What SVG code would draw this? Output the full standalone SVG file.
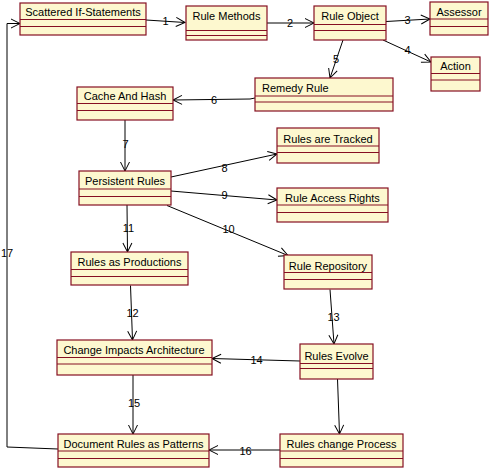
<svg xmlns="http://www.w3.org/2000/svg" width="490" height="469" viewBox="0 0 490 469">
<defs>
<style>
.box{fill:#fdf8cf;stroke:#860f22;stroke-width:1.2}
.div{stroke:#860f22;stroke-width:1}
.t{font-family:"Liberation Sans",Arial,sans-serif;font-size:11px;fill:#000}
.c{text-anchor:middle}
.ln{fill:none;stroke:#000;stroke-width:1}
.lb{font-family:"Liberation Sans",Arial,sans-serif;font-size:11px;fill:#000;text-anchor:middle}
</style>
<marker id="arr" markerUnits="userSpaceOnUse" markerWidth="14" markerHeight="12" viewBox="-11 -6 13 12" refX="0" refY="0" orient="auto">
<path d="M-9,-4.5 L0,0 L-9,4.5" fill="none" stroke="#000" stroke-width="1"/>
</marker>
</defs>
<rect width="490" height="469" fill="#fff"/>
<g id="connectors">
<line class="ln" x1="146" y1="20" x2="185" y2="22.5" marker-end="url(#arr)"/>
<line class="ln" x1="267" y1="23" x2="314" y2="23" marker-end="url(#arr)"/>
<line class="ln" x1="386" y1="21.5" x2="430" y2="19" marker-end="url(#arr)"/>
<line class="ln" x1="383" y1="40" x2="431" y2="62" marker-end="url(#arr)"/>
<line class="ln" x1="343" y1="40" x2="330" y2="78" marker-end="url(#arr)"/>
<polyline class="ln" points="255,98 250,99 173,100" marker-end="url(#arr)"/>
<line class="ln" x1="125" y1="120" x2="125" y2="171" marker-end="url(#arr)"/>
<line class="ln" x1="171" y1="177" x2="277" y2="154" marker-end="url(#arr)"/>
<line class="ln" x1="171" y1="191" x2="277" y2="200" marker-end="url(#arr)"/>
<line class="ln" x1="167" y1="205.5" x2="288" y2="255.5" marker-end="url(#arr)"/>
<line class="ln" x1="127" y1="205" x2="127.5" y2="252" marker-end="url(#arr)"/>
<line class="ln" x1="130.5" y1="285.5" x2="132.5" y2="340" marker-end="url(#arr)"/>
<line class="ln" x1="330" y1="289.5" x2="334" y2="344" marker-end="url(#arr)"/>
<line class="ln" x1="300" y1="361" x2="212" y2="358.5" marker-end="url(#arr)"/>
<line class="ln" x1="133" y1="375" x2="133" y2="434" marker-end="url(#arr)"/>
<line class="ln" x1="337.5" y1="379" x2="339.5" y2="434" marker-end="url(#arr)"/>
<line class="ln" x1="280" y1="450" x2="209" y2="450" marker-end="url(#arr)"/>
<polyline class="ln" points="58,449 7,447 7,23.5 20,23.5" marker-end="url(#arr)"/>
<text class="lb" x="165.5" y="25">1</text>
<text class="lb" x="290" y="27">2</text>
<text class="lb" x="407.5" y="24">3</text>
<text class="lb" x="407.5" y="54">4</text>
<text class="lb" x="336" y="63">5</text>
<text class="lb" x="214" y="104">6</text>
<text class="lb" x="125.5" y="148">7</text>
<text class="lb" x="224.5" y="171.5">8</text>
<text class="lb" x="224.5" y="199">9</text>
<text class="lb" x="228.5" y="233">10</text>
<text class="lb" x="128.5" y="231.5">11</text>
<text class="lb" x="132.5" y="316.5">12</text>
<text class="lb" x="333.5" y="321">13</text>
<text class="lb" x="256.5" y="364">14</text>
<text class="lb" x="134" y="407">15</text>
<text class="lb" x="245.5" y="454.5">16</text>
<text class="lb" x="7" y="257">17</text>
</g>
<g id="scattered">
<rect class="box" x="20" y="3" width="126" height="32"/>
<line class="div" x1="20" y1="19.5" x2="146" y2="19.5"/>
<line class="div" x1="20" y1="26.5" x2="146" y2="26.5"/>
<text class="t c" x="83" y="16">Scattered If-Statements</text>
</g>
<g id="ruleMethods">
<rect class="box" x="186" y="6" width="81" height="34"/>
<line class="div" x1="186" y1="30.5" x2="267" y2="30.5"/>
<line class="div" x1="186" y1="35.5" x2="267" y2="35.5"/>
<text class="t c" x="226.5" y="20">Rule Methods</text>
</g>
<g id="ruleObject">
<rect class="box" x="314" y="6" width="72" height="34"/>
<line class="div" x1="314" y1="24.5" x2="386" y2="24.5"/>
<line class="div" x1="314" y1="30.5" x2="386" y2="30.5"/>
<text class="t c" x="350" y="19.5">Rule Object</text>
</g>
<g id="assessor">
<rect class="box" x="430" y="2" width="58" height="33"/>
<line class="div" x1="430" y1="19" x2="488" y2="19"/>
<line class="div" x1="430" y1="26.5" x2="488" y2="26.5"/>
<text class="t c" x="459" y="16">Assessor</text>
</g>
<g id="action">
<rect class="box" x="431" y="57" width="49" height="34"/>
<line class="div" x1="431" y1="73.5" x2="480" y2="73.5"/>
<line class="div" x1="431" y1="80" x2="480" y2="80"/>
<text class="t c" x="455.5" y="70">Action</text>
</g>
<g id="remedyRule">
<rect class="box" x="255" y="78" width="138" height="33"/>
<line class="div" x1="255" y1="96" x2="393" y2="96"/>
<line class="div" x1="255" y1="102" x2="393" y2="102"/>
<text class="t" x="262" y="92">Remedy Rule</text>
</g>
<g id="cacheAndHash">
<rect class="box" x="77" y="87" width="96" height="33"/>
<line class="div" x1="77" y1="103.5" x2="173" y2="103.5"/>
<line class="div" x1="77" y1="110.5" x2="173" y2="110.5"/>
<text class="t c" x="125" y="100">Cache And Hash</text>
</g>
<g id="persistentRules">
<rect class="box" x="79" y="171" width="92" height="34"/>
<line class="div" x1="79" y1="189" x2="171" y2="189"/>
<line class="div" x1="79" y1="196.5" x2="171" y2="196.5"/>
<text class="t c" x="125" y="185">Persistent Rules</text>
</g>
<g id="rulesTracked">
<rect class="box" x="277" y="128" width="102" height="35"/>
<line class="div" x1="277" y1="146" x2="379" y2="146"/>
<line class="div" x1="277" y1="152.5" x2="379" y2="152.5"/>
<text class="t c" x="328" y="143">Rules are Tracked</text>
</g>
<g id="ruleAccessRights">
<rect class="box" x="277" y="188" width="111" height="34"/>
<line class="div" x1="277" y1="205" x2="388" y2="205"/>
<line class="div" x1="277" y1="212.5" x2="388" y2="212.5"/>
<text class="t c" x="332.5" y="202">Rule Access Rights</text>
</g>
<g id="rulesProductions">
<rect class="box" x="71" y="252" width="117" height="33"/>
<line class="div" x1="71" y1="269.5" x2="188" y2="269.5"/>
<line class="div" x1="71" y1="276.5" x2="188" y2="276.5"/>
<text class="t c" x="129.5" y="266">Rules as Productions</text>
</g>
<g id="ruleRepository">
<rect class="box" x="284" y="255" width="88" height="34"/>
<line class="div" x1="284" y1="272.5" x2="372" y2="272.5"/>
<line class="div" x1="284" y1="279.5" x2="372" y2="279.5"/>
<text class="t c" x="328" y="270">Rule Repository</text>
</g>
<g id="changeImpacts">
<rect class="box" x="57" y="340" width="155" height="35"/>
<line class="div" x1="57" y1="357.5" x2="212" y2="357.5"/>
<line class="div" x1="57" y1="364" x2="212" y2="364"/>
<text class="t c" x="134" y="354">Change Impacts Architecture</text>
</g>
<g id="rulesEvolve">
<rect class="box" x="300" y="344" width="73" height="35"/>
<line class="div" x1="300" y1="363.5" x2="373" y2="363.5"/>
<line class="div" x1="300" y1="368.5" x2="373" y2="368.5"/>
<text class="t c" x="336.5" y="359.5">Rules Evolve</text>
</g>
<g id="documentRules">
<rect class="box" x="58" y="434" width="151" height="33"/>
<line class="div" x1="58" y1="451" x2="209" y2="451"/>
<line class="div" x1="58" y1="458.5" x2="209" y2="458.5"/>
<text class="t c" x="133.5" y="448">Document Rules as Patterns</text>
</g>
<g id="rulesChangeProcess">
<rect class="box" x="280" y="434" width="123" height="33"/>
<line class="div" x1="280" y1="451" x2="403" y2="451"/>
<line class="div" x1="280" y1="458.5" x2="403" y2="458.5"/>
<text class="t c" x="341.5" y="448">Rules change Process</text>
</g>
</svg>
